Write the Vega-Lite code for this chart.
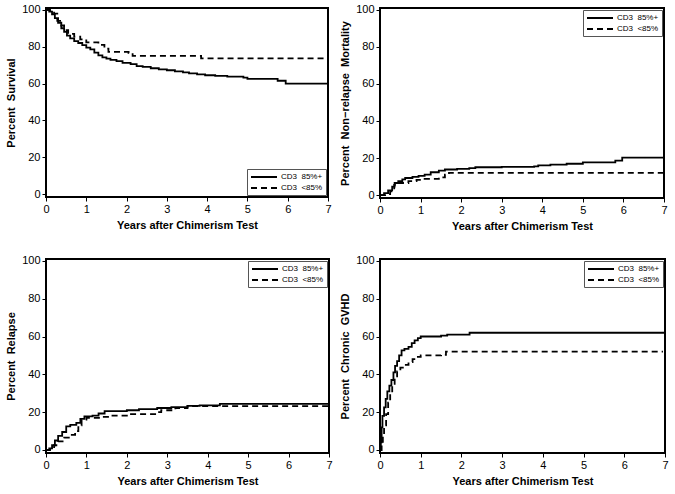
{
 "$schema": "https://vega.github.io/schema/vega-lite/v6.json",
 "background": "white",
 "padding": {"left": 4, "top": 2, "right": 10, "bottom": 4},
 "columns": 2,
 "spacing": {"row": 21, "column": 4},
 "datasets": {
  "surv": [
   {"g":"CD3  85%+","t":0,"v":100},{"g":"CD3  85%+","t":0.08,"v":99},{"g":"CD3  85%+","t":0.15,"v":97.5},{"g":"CD3  85%+","t":0.22,"v":95.5},{"g":"CD3  85%+","t":0.3,"v":93},{"g":"CD3  85%+","t":0.38,"v":90},{"g":"CD3  85%+","t":0.45,"v":88},{"g":"CD3  85%+","t":0.52,"v":86},{"g":"CD3  85%+","t":0.6,"v":84.5},{"g":"CD3  85%+","t":0.7,"v":83},{"g":"CD3  85%+","t":0.8,"v":82},{"g":"CD3  85%+","t":0.9,"v":80.8},{"g":"CD3  85%+","t":1.0,"v":79.5},{"g":"CD3  85%+","t":1.1,"v":78.5},{"g":"CD3  85%+","t":1.2,"v":76.8},{"g":"CD3  85%+","t":1.3,"v":75.3},{"g":"CD3  85%+","t":1.4,"v":74.2},{"g":"CD3  85%+","t":1.5,"v":73.5},{"g":"CD3  85%+","t":1.6,"v":72.8},{"g":"CD3  85%+","t":1.75,"v":72.2},{"g":"CD3  85%+","t":1.9,"v":71.2},{"g":"CD3  85%+","t":2.1,"v":70.5},{"g":"CD3  85%+","t":2.25,"v":69.5},{"g":"CD3  85%+","t":2.4,"v":69},{"g":"CD3  85%+","t":2.6,"v":68.3},{"g":"CD3  85%+","t":2.8,"v":67.7},{"g":"CD3  85%+","t":3.0,"v":67.2},{"g":"CD3  85%+","t":3.2,"v":66.6},{"g":"CD3  85%+","t":3.4,"v":66},{"g":"CD3  85%+","t":3.55,"v":65.5},{"g":"CD3  85%+","t":3.75,"v":65},{"g":"CD3  85%+","t":3.95,"v":64.5},{"g":"CD3  85%+","t":4.2,"v":64.2},{"g":"CD3  85%+","t":4.5,"v":63.7},{"g":"CD3  85%+","t":4.9,"v":63.2},{"g":"CD3  85%+","t":5.0,"v":62.5},{"g":"CD3  85%+","t":5.75,"v":61.5},{"g":"CD3  85%+","t":5.95,"v":60},{"g":"CD3  85%+","t":7,"v":60},
   {"g":"CD3  <85%","t":0,"v":100},{"g":"CD3  <85%","t":0.1,"v":99.5},{"g":"CD3  <85%","t":0.2,"v":98},{"g":"CD3  <85%","t":0.28,"v":94},{"g":"CD3  <85%","t":0.35,"v":91.5},{"g":"CD3  <85%","t":0.45,"v":89},{"g":"CD3  <85%","t":0.55,"v":87},{"g":"CD3  <85%","t":0.7,"v":85.5},{"g":"CD3  <85%","t":0.85,"v":84},{"g":"CD3  <85%","t":1.0,"v":82.3},{"g":"CD3  <85%","t":1.3,"v":81},{"g":"CD3  <85%","t":1.45,"v":79},{"g":"CD3  <85%","t":1.55,"v":77.2},{"g":"CD3  <85%","t":2.05,"v":76.5},{"g":"CD3  <85%","t":2.15,"v":75},{"g":"CD3  <85%","t":3.85,"v":73.7},{"g":"CD3  <85%","t":7,"v":73.7}
  ],
  "nrm": [
   {"g":"CD3  85%+","t":0,"v":0},{"g":"CD3  85%+","t":0.1,"v":1},{"g":"CD3  85%+","t":0.2,"v":2.5},{"g":"CD3  85%+","t":0.3,"v":4.5},{"g":"CD3  85%+","t":0.36,"v":6.5},{"g":"CD3  85%+","t":0.45,"v":7.5},{"g":"CD3  85%+","t":0.55,"v":8.5},{"g":"CD3  85%+","t":0.62,"v":9.2},{"g":"CD3  85%+","t":0.8,"v":9.8},{"g":"CD3  85%+","t":0.95,"v":10.4},{"g":"CD3  85%+","t":1.1,"v":11},{"g":"CD3  85%+","t":1.25,"v":12.3},{"g":"CD3  85%+","t":1.45,"v":13.2},{"g":"CD3  85%+","t":1.6,"v":13.8},{"g":"CD3  85%+","t":1.9,"v":14.1},{"g":"CD3  85%+","t":2.2,"v":14.5},{"g":"CD3  85%+","t":2.35,"v":15},{"g":"CD3  85%+","t":3.0,"v":15.2},{"g":"CD3  85%+","t":3.8,"v":15.5},{"g":"CD3  85%+","t":3.9,"v":16},{"g":"CD3  85%+","t":4.2,"v":16.4},{"g":"CD3  85%+","t":4.6,"v":16.9},{"g":"CD3  85%+","t":5.0,"v":17.6},{"g":"CD3  85%+","t":5.8,"v":18.6},{"g":"CD3  85%+","t":5.97,"v":20.2},{"g":"CD3  85%+","t":7,"v":20.2},
   {"g":"CD3  <85%","t":0,"v":0},{"g":"CD3  <85%","t":0.15,"v":0.5},{"g":"CD3  <85%","t":0.25,"v":2},{"g":"CD3  <85%","t":0.35,"v":5.5},{"g":"CD3  <85%","t":0.45,"v":6.5},{"g":"CD3  <85%","t":0.7,"v":7.5},{"g":"CD3  <85%","t":0.9,"v":8.2},{"g":"CD3  <85%","t":1.1,"v":8.7},{"g":"CD3  <85%","t":1.45,"v":9.5},{"g":"CD3  <85%","t":1.6,"v":11},{"g":"CD3  <85%","t":1.7,"v":12},{"g":"CD3  <85%","t":7,"v":12}
  ],
  "rel": [
   {"g":"CD3  85%+","t":0,"v":0},{"g":"CD3  85%+","t":0.08,"v":0.8},{"g":"CD3  85%+","t":0.15,"v":2.5},{"g":"CD3  85%+","t":0.22,"v":5},{"g":"CD3  85%+","t":0.3,"v":7.5},{"g":"CD3  85%+","t":0.4,"v":9.5},{"g":"CD3  85%+","t":0.5,"v":12.5},{"g":"CD3  85%+","t":0.6,"v":13.3},{"g":"CD3  85%+","t":0.75,"v":14.3},{"g":"CD3  85%+","t":0.85,"v":16.5},{"g":"CD3  85%+","t":0.95,"v":17.8},{"g":"CD3  85%+","t":1.15,"v":18.2},{"g":"CD3  85%+","t":1.3,"v":19.3},{"g":"CD3  85%+","t":1.45,"v":20.5},{"g":"CD3  85%+","t":2.0,"v":21},{"g":"CD3  85%+","t":2.3,"v":21.6},{"g":"CD3  85%+","t":2.75,"v":22.2},{"g":"CD3  85%+","t":3.1,"v":22.7},{"g":"CD3  85%+","t":3.5,"v":23.3},{"g":"CD3  85%+","t":3.8,"v":23.6},{"g":"CD3  85%+","t":4.3,"v":24.4},{"g":"CD3  85%+","t":7,"v":24.4},
   {"g":"CD3  <85%","t":0,"v":0},{"g":"CD3  <85%","t":0.1,"v":0.5},{"g":"CD3  <85%","t":0.2,"v":2.5},{"g":"CD3  <85%","t":0.3,"v":4.5},{"g":"CD3  <85%","t":0.45,"v":6.5},{"g":"CD3  <85%","t":0.6,"v":8},{"g":"CD3  <85%","t":0.72,"v":10},{"g":"CD3  <85%","t":0.8,"v":13},{"g":"CD3  <85%","t":0.88,"v":16},{"g":"CD3  <85%","t":1.0,"v":17},{"g":"CD3  <85%","t":1.4,"v":17.5},{"g":"CD3  <85%","t":1.6,"v":18.2},{"g":"CD3  <85%","t":2.0,"v":19},{"g":"CD3  <85%","t":2.7,"v":20},{"g":"CD3  <85%","t":2.85,"v":21},{"g":"CD3  <85%","t":3.2,"v":22.2},{"g":"CD3  <85%","t":3.5,"v":23.2},{"g":"CD3  <85%","t":7,"v":23.2}
  ],
  "gvhd": [
   {"g":"CD3  85%+","t":0,"v":0},{"g":"CD3  85%+","t":0.02,"v":4},{"g":"CD3  85%+","t":0.04,"v":12},{"g":"CD3  85%+","t":0.06,"v":18},{"g":"CD3  85%+","t":0.1,"v":22.5},{"g":"CD3  85%+","t":0.14,"v":27},{"g":"CD3  85%+","t":0.18,"v":31},{"g":"CD3  85%+","t":0.23,"v":34},{"g":"CD3  85%+","t":0.28,"v":37},{"g":"CD3  85%+","t":0.33,"v":41},{"g":"CD3  85%+","t":0.37,"v":44.5},{"g":"CD3  85%+","t":0.42,"v":47},{"g":"CD3  85%+","t":0.47,"v":50},{"g":"CD3  85%+","t":0.53,"v":52.7},{"g":"CD3  85%+","t":0.6,"v":53.5},{"g":"CD3  85%+","t":0.7,"v":54.5},{"g":"CD3  85%+","t":0.78,"v":56.5},{"g":"CD3  85%+","t":0.85,"v":58},{"g":"CD3  85%+","t":0.93,"v":59.2},{"g":"CD3  85%+","t":1.0,"v":60},{"g":"CD3  85%+","t":1.5,"v":60.5},{"g":"CD3  85%+","t":1.65,"v":61},{"g":"CD3  85%+","t":2.2,"v":62},{"g":"CD3  85%+","t":7,"v":62},
   {"g":"CD3  <85%","t":0,"v":0},{"g":"CD3  <85%","t":0.04,"v":3},{"g":"CD3  <85%","t":0.07,"v":8},{"g":"CD3  <85%","t":0.1,"v":13},{"g":"CD3  <85%","t":0.15,"v":19},{"g":"CD3  <85%","t":0.2,"v":25},{"g":"CD3  <85%","t":0.25,"v":30},{"g":"CD3  <85%","t":0.3,"v":35},{"g":"CD3  <85%","t":0.36,"v":39},{"g":"CD3  <85%","t":0.42,"v":41.5},{"g":"CD3  <85%","t":0.5,"v":43.5},{"g":"CD3  <85%","t":0.6,"v":45},{"g":"CD3  <85%","t":0.7,"v":46.5},{"g":"CD3  <85%","t":0.8,"v":48},{"g":"CD3  <85%","t":0.9,"v":49.2},{"g":"CD3  <85%","t":1.0,"v":50},{"g":"CD3  <85%","t":1.5,"v":50.3},{"g":"CD3  <85%","t":1.62,"v":52},{"g":"CD3  <85%","t":6.95,"v":52}
  ]
 },
 "config": {
  "view": {"stroke": "black", "strokeWidth": 2},
  "axis": {"domain": false, "grid": false, "labelFont": "Liberation Sans", "labelFontSize": 11, "labelColor": "black", "labelFlush": false, "tickColor": "black", "tickSize": 4, "labelPadding": 2, "titleFont": "Liberation Sans", "titleFontSize": 11, "titleFontWeight": "bold", "titleColor": "black"},
  "axisX": {"titlePadding": 5},
  "axisY": {"titlePadding": 5},
  "legend": {"strokeColor": "#555", "fillColor": "white", "padding": 3, "cornerRadius": 0, "offset": 2, "labelFont": "Liberation Sans", "labelFontSize": 8, "labelColor": "black", "labelOffset": 21, "rowPadding": 2, "symbolType": "M-1,0H5.5", "symbolSize": 64, "symbolStrokeColor": "black", "symbolStrokeWidth": 1.6},
  "line": {"color": "black", "strokeWidth": 1.8, "interpolate": "step-after"}
 },
 "resolve": {"scale": {"strokeDash": "independent", "x": "independent", "y": "independent"}, "legend": {"strokeDash": "independent"}},
 "concat": [
  {"data": {"name": "surv"}, "width": 282, "height": 189, "mark": {"type": "line"},
   "encoding": {
    "x": {"field": "t", "type": "quantitative", "scale": {"domain": [0, 7], "nice": false}, "axis": {"values": [0,1,2,3,4,5,6,7], "title": "Years after Chimerism Test"}},
    "y": {"field": "v", "type": "quantitative", "scale": {"domain": [-1.6, 101], "nice": false, "zero": false}, "axis": {"values": [0,20,40,60,80,100], "title": "Percent\u00a0 Survival"}},
    "strokeDash": {"field": "g", "type": "nominal", "scale": {"domain": ["CD3  85%+", "CD3  <85%"], "range": [[1,0],[6,4]]}, "legend": {"orient": "bottom-right", "title": null, "labelExpr": "replace(datum.label, '  ', '\u00a0 ')"}}
   }},
  {"data": {"name": "nrm"}, "width": 284, "height": 190, "mark": {"type": "line"},
   "encoding": {
    "x": {"field": "t", "type": "quantitative", "scale": {"domain": [0, 7], "nice": false}, "axis": {"values": [0,1,2,3,4,5,6,7], "title": "Years after Chimerism Test"}},
    "y": {"field": "v", "type": "quantitative", "scale": {"domain": [-1.6, 101], "nice": false, "zero": false}, "axis": {"values": [0,20,40,60,80,100], "title": "Percent\u00a0 Non−relapse\u00a0 Mortality"}},
    "strokeDash": {"field": "g", "type": "nominal", "scale": {"domain": ["CD3  85%+", "CD3  <85%"], "range": [[1,0],[6,4]]}, "legend": {"orient": "top-right", "title": null, "labelExpr": "replace(datum.label, '  ', '\u00a0 ')"}}
   }},
  {"data": {"name": "rel"}, "width": 283, "height": 194, "mark": {"type": "line"},
   "encoding": {
    "x": {"field": "t", "type": "quantitative", "scale": {"domain": [0, 7], "nice": false}, "axis": {"values": [0,1,2,3,4,5,6,7], "title": "Years after Chimerism Test"}},
    "y": {"field": "v", "type": "quantitative", "scale": {"domain": [-1.6, 101], "nice": false, "zero": false}, "axis": {"values": [0,20,40,60,80,100], "title": "Percent\u00a0 Relapse"}},
    "strokeDash": {"field": "g", "type": "nominal", "scale": {"domain": ["CD3  85%+", "CD3  <85%"], "range": [[1,0],[6,4]]}, "legend": {"orient": "top-right", "title": null, "labelExpr": "replace(datum.label, '  ', '\u00a0 ')"}}
   }},
  {"data": {"name": "gvhd"}, "width": 285, "height": 194, "mark": {"type": "line"},
   "encoding": {
    "x": {"field": "t", "type": "quantitative", "scale": {"domain": [0, 7], "nice": false}, "axis": {"values": [0,1,2,3,4,5,6,7], "title": "Years after Chimerism Test"}},
    "y": {"field": "v", "type": "quantitative", "scale": {"domain": [-1.6, 101], "nice": false, "zero": false}, "axis": {"values": [0,20,40,60,80,100], "title": "Percent\u00a0 Chronic\u00a0 GVHD"}},
    "strokeDash": {"field": "g", "type": "nominal", "scale": {"domain": ["CD3  85%+", "CD3  <85%"], "range": [[1,0],[6,4]]}, "legend": {"orient": "top-right", "title": null, "labelExpr": "replace(datum.label, '  ', '\u00a0 ')"}}
   }}
 ]
}
